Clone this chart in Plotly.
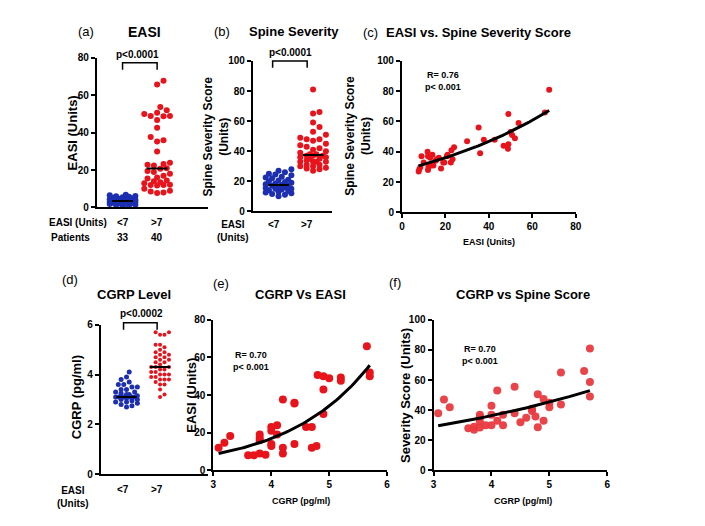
import numpy as np
import plotly.graph_objects as go

W, H = 705, 526
FONT = "Liberation Sans"
RED = "#e8131b"
BLUE = "#1c2fb0"

# ---------------- data ----------------
groups = ["<7", ">7"]
patients = ["33", "40"]
easi_low = [0.5, 1, 1.2, 1.5, 1.8, 2, 2.2, 2.4, 2.5, 2.7, 2.8, 3, 3, 3.1, 3.2, 3.3, 3.5,
            3.6, 3.8, 4, 4, 4.2, 4.4, 4.5, 4.7, 5, 5.2, 5.5, 5.8, 6, 6.2, 6.5, 6.8]
# EASI (>7) paired with spine severity score (>7)
easi_high = [7.7, 8, 8.5, 9, 11.8, 12, 12, 12.2, 13, 14, 14.5, 16, 17, 18, 19, 19.5, 20.7,
             22.5, 22.8, 23.3, 24, 30, 35.3, 36, 37.7, 42.7, 46.8, 49, 49, 48.8, 50, 50.7,
             52, 53.7, 65.8, 67.8, 10, 13.5, 21, 15.5]
spine_high = [27, 28.5, 30, 37, 40, 37, 28, 30, 36, 38, 31, 35, 36, 29, 33, 33, 37,
              33, 41, 35, 43, 47, 56, 39, 48, 48, 44, 65, 45, 42, 53, 51,
              49, 59, 66, 81, 33, 31, 38, 34]
spine_low = [10, 11, 11.5, 12, 12.5, 13, 13.5, 14, 14.5, 15, 15, 15.5, 16, 16.5, 17, 17,
             17.5, 18, 18.5, 19, 19.5, 20, 20.5, 21, 22, 22.5, 23, 24, 24.5, 25, 26, 27, 28]
cgrp_low = [2.7, 2.75, 2.8, 2.85, 2.9, 2.9, 2.95, 3.0, 3.0, 3.05, 3.1, 3.1, 3.1, 3.1, 3.1,
            3.1, 3.1, 3.15, 3.2, 3.2, 3.25, 3.3, 3.3, 3.4, 3.4, 3.5, 3.5, 3.6, 3.6, 3.7,
            3.8, 3.9, 4.1]
cgrp_high = [3.1, 3.2, 3.4, 3.6, 3.6, 3.7, 3.8, 3.8, 3.8, 3.9, 3.9, 4.0, 4.0, 4.0, 4.1,
             4.1, 4.2, 4.2, 4.3, 4.3, 4.3, 4.4, 4.5, 4.5, 4.6, 4.6, 4.7, 4.7, 4.8, 4.8,
             4.9, 4.9, 5.0, 5.1, 5.2, 5.2, 5.6, 5.7, 5.7, 5.6]
e_cgrp = [3.09, 3.19, 3.29, 3.6, 3.7, 3.8, 3.8, 3.8, 3.8, 3.9, 4.0, 4.0, 4.0, 4.0, 4.1,
          4.1, 4.2, 4.2, 4.2, 4.4, 4.4, 4.4, 4.6, 4.7, 4.7, 4.78, 4.8, 4.9, 4.9, 4.9,
          5.0, 5.2, 5.2, 5.65, 5.7, 5.7]
e_easi = [12, 14.7, 18.2, 8, 8, 9, 19, 17.3, 16, 8.3, 14, 13, 23, 21, 19, 24, 37.7, 12, 9,
          36, 35.5, 14, 23, 23, 12, 13, 50.7, 50, 43, 30, 49, 49.3, 47.6, 66, 52, 50]
f_cgrp = [3.08, 3.18, 3.28, 3.6, 3.7, 3.7, 3.8, 3.8, 3.8, 3.8, 3.9, 4.0, 4.0, 4.0, 4.1,
          4.1, 4.2, 4.2, 4.4, 4.4, 4.5, 4.6, 4.7, 4.7, 4.76, 4.8, 4.8, 4.9, 4.9, 5.0, 5.0,
          5.2, 5.2, 5.6, 5.7, 5.7, 5.7]
f_spine = [38, 47, 42, 28, 29, 27, 37, 35.5, 32.5, 28.5, 30, 43, 37, 30, 53, 33, 37, 30,
           55.6, 38, 32, 35, 41, 39.4, 35.7, 50.6, 28.6, 47.4, 33, 45, 42, 65, 43.7, 66,
           81, 58.7, 49]

# ------------- helpers -------------
def px(x):
    return x / W

def py(y):
    return 1 - y / H

fig = go.Figure()

def add_axes(n, xpx, ypx, xr, yr, ytick, xtick=None):
    xa = "xaxis" if n == 1 else f"xaxis{n}"
    ya = "yaxis" if n == 1 else f"yaxis{n}"
    common = dict(showgrid=False, zeroline=False, showline=True, linecolor="black",
                  linewidth=2, ticks="outside", ticklen=4, tickwidth=2, tickcolor="black",
                  tickfont=dict(family=FONT, size=10, color="black", weight="bold"))
    fig.layout[xa] = dict(domain=[px(xpx[0]), px(xpx[1])], range=xr,
                          anchor=f"y{n}" if n > 1 else "y", **common)
    if xtick is None:
        fig.layout[xa].update(showticklabels=False, ticks="")
    else:
        fig.layout[xa].update(dtick=xtick, tick0=0)
    fig.layout[ya] = dict(domain=[py(ypx[0]), py(ypx[1])], range=yr,
                          anchor=f"x{n}" if n > 1 else "x", dtick=ytick, **common)
    return ("x" if n == 1 else f"x{n}", "y" if n == 1 else f"y{n}")

def swarm(vals, center, ppu_y, ppu_x, diam, cap):
    placed = []
    out = [0.0] * len(vals)
    order = np.argsort(vals)
    step = diam * 0.5
    cands = [0.0]
    k = 1
    while k * step <= cap:
        cands += [k * step, -k * step]
        k += 1
    for i in order:
        yv = vals[i] * ppu_y
        best, bestd = 0.0, -1
        for off in cands:
            d = min([np.hypot(off - o, yv - yy) for o, yy in placed] or [1e9])
            if d >= diam * 0.95:
                best = off
                break
            if d > bestd:
                bestd, best = d, off
        placed.append((best, yv))
        out[i] = center + best / ppu_x
    return out

def dot_panel(n, xpx, ypx, yr, ytick, low, high, size_low, size_high, caps, pxu=35):
    left = -(26 / pxu)
    right = left + (xpx[1] - xpx[0]) / pxu
    xr_, yr_ = add_axes(n, xpx, ypx, [left, right], yr, ytick)
    ppu_y = (ypx[0] - ypx[1]) / (yr[1] - yr[0])
    for ci, (vals, col, s) in enumerate([(low, BLUE, size_low), (high, RED, size_high)]):
        xs = swarm(vals, ci, ppu_y, pxu, s + 0.5, caps[ci])
        fig.add_trace(go.Scatter(x=xs, y=vals, mode="markers", xaxis=xr_, yaxis=yr_,
                                 marker=dict(color=col, size=s), showlegend=False))
        m = float(np.median(vals))
        fig.add_trace(go.Scatter(x=[ci - 0.3, ci + 0.3], y=[m, m], mode="lines", xaxis=xr_,
                                 yaxis=yr_, line=dict(color="black", width=2), showlegend=False))

def fit_panel(n, xpx, ypx, xr, yr, xt, yt, xs, ys, size, color, opacity=1.0):
    xr_, yr_ = add_axes(n, xpx, ypx, xr, yr, yt, xtick=xt)
    fig.add_trace(go.Scatter(x=xs, y=ys, mode="markers", xaxis=xr_, yaxis=yr_,
                             marker=dict(color=color, size=size, opacity=opacity), showlegend=False))
    c = np.polyfit(xs, np.log(ys), 1)
    gx = np.linspace(min(xs), max(xs), 60)
    fig.add_trace(go.Scatter(x=gx, y=np.exp(np.polyval(c, gx)), mode="lines", xaxis=xr_, yaxis=yr_,
                             line=dict(color="black", width=3), showlegend=False))

# panels
dot_panel(1, (87, 200), (198, 45), [0, 80], 20, easi_low, easi_high, 6, 6, (13, 14))
dot_panel(2, (245, 325), (202, 48), [0, 100], 20, spine_low, spine_high, 6, 6, (14, 14))
fit_panel(3, (396, 572), (203, 48), [0, 80], [0, 100], 20, 20, easi_high, spine_high, 6, RED)
dot_panel(4, (91, 200), (471, 318), [0, 6], 2, cgrp_low, cgrp_high, 5, 4, (12, 14), pxu=34)
fit_panel(5, (205, 381), (467, 313), [3, 6], [0, 80], 1, 20, e_cgrp, e_easi, 8, RED)
fit_panel(6, (428, 604), (467, 313), [3, 6], [0, 100], 1, 20, f_cgrp, f_spine, 8, "#e83a3f", 0.95)

# ------------- text -------------
ann = []
def T(x, y, text, size=10, bold=True, xanchor="center", angle=0):
    ann.append(dict(x=px(x), y=py(y), xref="paper", yref="paper", text=text, showarrow=False,
                    xanchor=xanchor, yanchor="middle", textangle=angle,
                    font=dict(family=FONT, size=size, color="black",
                              weight="bold" if bold else "normal")))

T(76, 18, "(a)", 13, False); T(135, 18, "EASI", 14)
T(214, 18, "(b)", 13, False); T(287, 18, "Spine Severity", 13)
T(364, 19, "(c)", 13, False); T(474, 19, "EASI vs. Spine Severity Score", 13)
T(60, 272, "(d)", 13, False); T(125, 287, "CGRP Level", 13)
T(213, 276, "(e)", 13, False); T(293, 287, "CGRP Vs EASI", 13)
T(389, 275, "(f)", 13, False); T(519, 287, "CGRP vs Spine Score", 13)

T(62, 122, "EASI (Units)", 13, angle=-90)
T(208, 125, "Spine Severity Score<br>(Units)", 12, angle=-90)
T(352, 125, "Spine Severity Score<br>(Units)", 12, angle=-90)
T(66, 392, "CGRP (pg/ml)", 13, angle=-90)
T(182, 390, "EASI (Units)", 13, angle=-90)
T(399, 390, "Severity Score (Units)", 13, angle=-90)
T(484, 233, "EASI (Units)", 9)
T(294, 498, "CGRP (pg/ml)", 9)
T(519, 498, "CGRP (pg/ml)", 9)

T(68, 213, "EASI (Units)", 10); T(113, 213, groups[0], 10); T(148, 213, groups[1], 10)
T(60, 229, "Patients", 10); T(113, 229, patients[0], 10); T(148, 229, patients[1], 10)
T(225, 222, "EASI<br>(Units)", 10); T(266, 215, groups[0], 10); T(300, 215, groups[1], 10)
T(63, 494, "EASI<br>(Units)", 10); T(113, 487, groups[0], 10); T(148, 487, groups[1], 10)

T(417, 69, "R= 0.76<br>p< 0.001", 9, xanchor="left")
T(223, 355, "R= 0.70<br>p< 0.001", 9, xanchor="left")
T(455, 349, "R= 0.70<br>p< 0.001", 9, xanchor="left")

T(128, 41, "p<0.0001", 10); T(283, 39, "p<0.0001", 10); T(132, 307, "p<0.0002", 10)

shapes = []
for x0, x1, yt in [(113, 148, 50), (265, 300, 48), (114, 148, 316)]:
    shapes.append(dict(type="path", xref="paper", yref="paper",
                       path=f"M {px(x0)} {py(yt+7)} L {px(x0)} {py(yt)} L {px(x1)} {py(yt)} L {px(x1)} {py(yt+7)}",
                       line=dict(color="black", width=1.5)))

fig.update_layout(width=W, height=H, margin=dict(l=0, r=0, t=0, b=0),
                  paper_bgcolor="white", plot_bgcolor="white",
                  annotations=ann, shapes=shapes)
fig.write_html("out.html")
